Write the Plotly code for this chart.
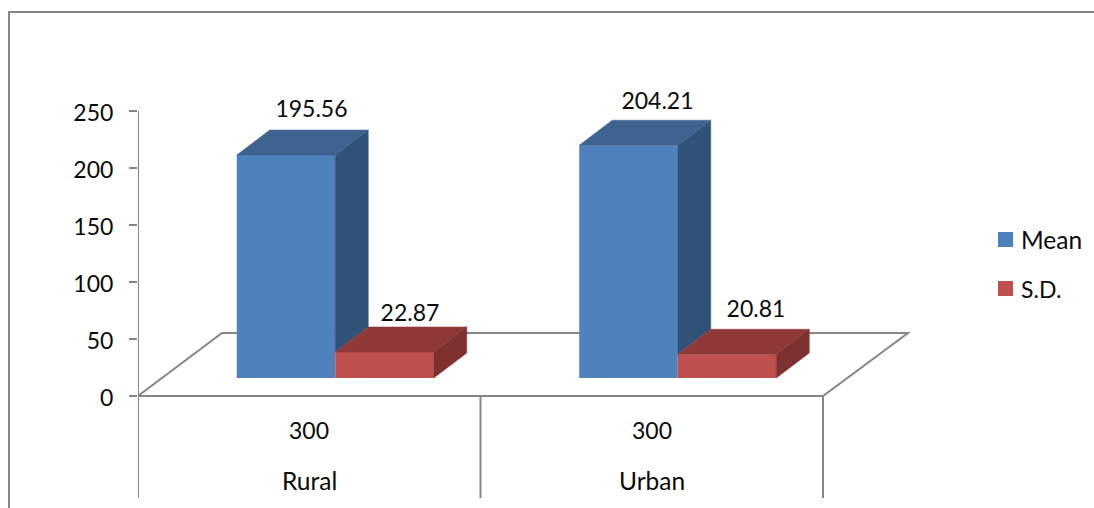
import plotly.graph_objects as go

# Survey summary by locality
localities = ["Rural", "Urban"]
sample_sizes = ["300", "300"]
mean_values = [195.56, 204.21]
sd_values = [22.87, 20.81]
y_ticks = [0, 50, 100, 150, 200, 250]

# Canvas and plot area, in pixels; the value axis reaches past its ticks to
# leave room for the labels above the columns and the rows below the floor
W, H = 1094, 508
LEFT, RIGHT = 138, 910
TOP, BOTTOM = 60, 500
ZERO_PX = 396
CAT_PX = 342.5
Y_PX = 285 / 250.0
X_MAX = (RIGHT - LEFT) / CAT_PX
Y_MIN = (ZERO_PX - BOTTOM) / Y_PX
Y_MAX = (ZERO_PX - TOP) / Y_PX


def ux(px):
    return px / CAT_PX


def uy(px):
    return px / Y_PX


def val_y(px):
    return (ZERO_PX - px) / Y_PX


def paper_x(px):
    return (px - LEFT) / (RIGHT - LEFT)


def paper_y(px):
    return (BOTTOM - px) / (BOTTOM - TOP)


# Oblique projection sizes, converted to axis units
BAR_W = ux(98.5)
BAR_DX, BAR_DY = ux(33), uy(25)
FLOOR_DX, FLOOR_DY = ux(84), uy(63)
BASE_DX, BASE_DY = ux(26), uy(18)

BLUE, BLUE_TOP, BLUE_SIDE = "#4F81BD", "#3E638F", "#325379"
RED, RED_TOP, RED_SIDE = "#C0504D", "#8F3A38", "#7D302E"
GREY = "#868686"
FONT = "Lato"
TEXT = "#0A0A0A"
FS = 23
FS_WORD = 24.5

fig = go.Figure()


def polygon(xs, ys, color):
    fig.add_trace(go.Scatter(
        x=xs + xs[:1], y=ys + ys[:1], mode="lines", fill="toself",
        fillcolor=color, line=dict(color=color, width=0.5),
        hoverinfo="skip", showlegend=False))


mean_left = [i + 0.5 - BAR_W + BASE_DX for i in range(2)]
sd_left = [x + BAR_W for x in mean_left]

# Front faces
fig.add_trace(go.Bar(
    x=[x + BAR_W / 2 for x in mean_left], y=mean_values, base=BASE_DY, width=BAR_W,
    name="Mean", marker=dict(color=BLUE, line=dict(width=0)), showlegend=False))
fig.add_trace(go.Bar(
    x=[x + BAR_W / 2 for x in sd_left], y=sd_values, base=BASE_DY, width=BAR_W,
    name="S.D.", marker=dict(color=RED, line=dict(width=0)), showlegend=False))

# Top and side faces of every column
for i in range(2):
    xm, xs = mean_left[i], sd_left[i]
    m, s = BASE_DY + mean_values[i], BASE_DY + sd_values[i]
    xr = xs + BAR_W
    polygon([xs, xs + BAR_DX, xs + BAR_DX, xs],
            [m, m + BAR_DY, s + BAR_DY, s], BLUE_SIDE)
    polygon([xm, xm + BAR_DX, xs + BAR_DX, xs],
            [m, m + BAR_DY, m + BAR_DY, m], BLUE_TOP)
    polygon([xr, xr + BAR_DX, xr + BAR_DX, xr],
            [s, s + BAR_DY, BASE_DY + BAR_DY, BASE_DY], RED_SIDE)
    polygon([xs, xs + BAR_DX, xr + BAR_DX, xr],
            [s, s + BAR_DY, s + BAR_DY, s], RED_TOP)

# Value labels above the columns
mean_lift = [44, 42]
sd_lift = [37, 43]
label_x, label_y, label_text = [], [], []
for i in range(2):
    shift = ux(25.5 if i == 0 else 29)
    label_x += [mean_left[i] + BAR_W / 2 + shift, sd_left[i] + BAR_W / 2 + shift]
    label_y += [BASE_DY + mean_values[i] + uy(mean_lift[i]),
                BASE_DY + sd_values[i] + uy(sd_lift[i])]
    label_text += [f"{mean_values[i]:.2f}", f"{sd_values[i]:.2f}"]
fig.add_trace(go.Scatter(
    x=label_x, y=label_y, text=label_text, mode="text", textposition="middle center",
    textfont=dict(family=FONT, size=FS, color=TEXT),
    cliponaxis=False, hoverinfo="skip", showlegend=False))

# Value axis line, stopping at the top tick
fig.add_trace(go.Scatter(
    x=[0, 0], y=[y_ticks[0], y_ticks[-1]], mode="lines",
    line=dict(color=GREY, width=2),
    cliponaxis=False, hoverinfo="skip", showlegend=False))

# Category dividers below the axis
drop = val_y(498)
for u in (0, 1, 2):
    fig.add_trace(go.Scatter(
        x=[u, u], y=[0, drop], mode="lines", line=dict(color=GREY, width=2),
        cliponaxis=False, hoverinfo="skip", showlegend=False))

# Floor outline, kept behind the columns
floor = (f"M 0 0 L {FLOOR_DX} {FLOOR_DY} L {2 + FLOOR_DX + ux(1)} {FLOOR_DY} L 2 0 Z")
shapes = [dict(type="path", path=floor, xref="x", yref="y", layer="below",
               line=dict(color=GREY, width=2))]

# Chart frame, open along the bottom and right edges
shapes.append(dict(type="path", xref="paper", yref="paper",
                   path=(f"M {paper_x(9)} {paper_y(508)} L {paper_x(9)} {paper_y(12)} "
                         f"L {paper_x(1094)} {paper_y(12)}"),
                   line=dict(color=GREY, width=2)))

annotations = []
for i in range(2):
    annotations.append(dict(x=i + 0.5, y=val_y(430), xref="x", yref="y",
                            text=sample_sizes[i], showarrow=False, yanchor="middle",
                            font=dict(family=FONT, size=FS, color=TEXT)))
    annotations.append(dict(x=i + 0.5, y=val_y(480), xref="x", yref="y",
                            text=localities[i], showarrow=False, yanchor="middle",
                            font=dict(family=FONT, size=FS_WORD, color=TEXT)))

# Legend keys and entries
for name, color, cy, size in (("Mean", BLUE, 239.5, FS_WORD), ("S.D.", RED, 288.5, FS)):
    shapes.append(dict(type="rect", xref="paper", yref="paper",
                       x0=paper_x(998), x1=paper_x(1013),
                       y0=paper_y(cy + 7.5), y1=paper_y(cy - 7.5),
                       fillcolor=color, line=dict(width=0)))
    annotations.append(dict(x=paper_x(1019), y=paper_y(cy), xref="paper", yref="paper",
                            text=name, showarrow=False, xanchor="left", yanchor="middle",
                            font=dict(family=FONT, size=size, color=TEXT)))

fig.update_layout(
    width=W, height=H, autosize=False,
    margin=dict(l=LEFT, r=W - RIGHT, t=TOP, b=H - BOTTOM, pad=0),
    paper_bgcolor="white", plot_bgcolor="white",
    barmode="overlay", showlegend=False,
    shapes=shapes, annotations=annotations,
    xaxis=dict(range=[0, X_MAX], showgrid=False, zeroline=False, showline=False,
               showticklabels=False, ticks=""),
    yaxis=dict(range=[Y_MIN, Y_MAX], tickvals=y_ticks, showgrid=False, zeroline=False,
               showline=False, ticks="outside",
               ticklen=8, tickcolor=GREY, tickwidth=2, ticklabelstandoff=11,
               ticklabelshift=2,
               tickfont=dict(family=FONT, size=FS, color=TEXT)),
)

fig.write_html("out.html")
